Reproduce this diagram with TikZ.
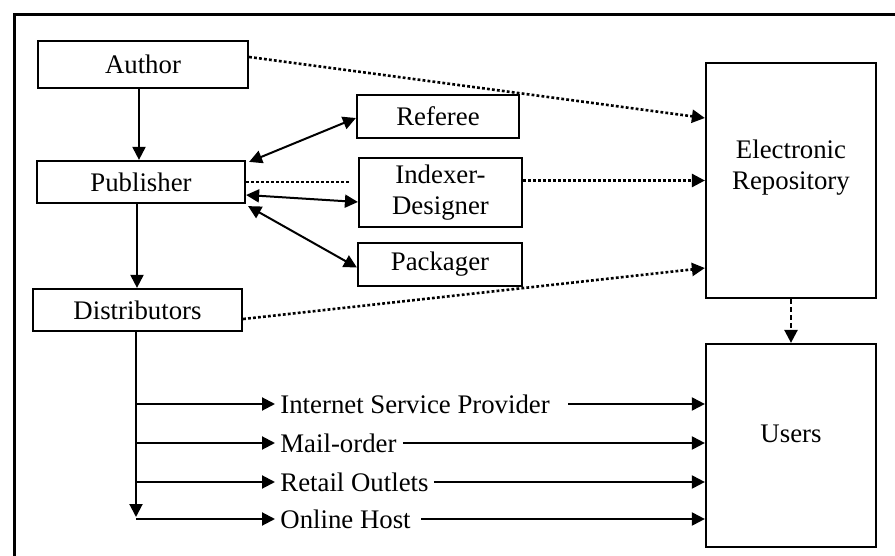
\documentclass[tikz,border=0pt]{standalone}
\usepackage{fontspec}
\setmainfont{Liberation Serif}
\usetikzlibrary{arrows.meta}
\begin{document}
\begin{tikzpicture}[x=0.5pt,y=-0.5pt,
  fnt/.style={font=\fontsize{13.4}{15.5}\selectfont},
  box/.style={draw, line width=1.1pt, inner sep=0pt, align=center, fnt},
  lbl/.style={inner sep=0pt, align=center, fnt},
  txt/.style={inner sep=2.5pt, anchor=west, fnt},
  tip/.tip={Triangle[length=6.5pt,width=6.5pt]},
  arr/.style={line width=1pt, -tip},
  darr/.style={line width=1pt, tip-tip},
  dots/.style={line width=1.3pt, dash pattern=on 1.4pt off 1.1pt},
  dashline/.style={line width=1.2pt, dash pattern=on 2.5pt off 1.5pt, -tip}
]
\useasboundingbox (0,0) rectangle (895,556);
% frame (left and top edges)
\draw[line width=1.5pt] (900,15) -- (14,15) -- (14,560);

% boxes
\node[box, minimum width=105pt, minimum height=23.5pt] (author) at (143,64.5) {Author};
\node[box, minimum width=104pt, minimum height=21pt] (pub) at (141,182) {Publisher};
\node[box, minimum width=104.5pt, minimum height=21pt] (dist) at (137.5,310) {Distributors};
\node[box, minimum width=81pt, minimum height=21.5pt] (ref) at (438,116.5) {Referee};
\node[box, minimum width=81.5pt, minimum height=34.5pt] (idx) at (440.5,192.5) {Indexer-\\Designer};
\node[box, minimum width=82pt, minimum height=21.5pt] (pack) at (440,264.5) {Packager};
\node[box, minimum width=85pt, minimum height=117.5pt] (er) at (791,180.5) {};
\node[lbl] (ertxt) at (791,168) {Electronic\\Repository};
\node[box, minimum width=85pt, minimum height=101.5pt] (users) at (791,445.5) {};
\node[lbl] (userstxt) at (791,434) {Users};

% helper coordinates
\coordinate (x139) at (139,0);
\coordinate (x137) at (137,0);
\coordinate (x136) at (136,0);
\coordinate (yA) at (0,57);
\coordinate (yE1) at (0,118);
\coordinate (yP2) at (0,195);
\coordinate (yI2) at (0,202);
\coordinate (yD) at (0,319);
\coordinate (yE3) at (0,268);
\coordinate (vend) at (136,517);

% vertical flow
\draw[arr] (author.south -| x139) -- (pub.north -| x139);
\draw[arr] (pub.south -| x137) -- (dist.north -| x137);

% double arrows
\draw[darr] ([xshift=1.5pt,yshift=-1pt]pub.north east) -- (ref.west |- yE1);
\draw[darr] (pub.east |- yP2) -- (idx.west |- yI2);
\draw[darr] ([xshift=1pt,yshift=-1pt]pub.south east) -- ([yshift=-1.5pt]pack.west);

% dotted lines
\draw[dots, -tip] (author.east |- yA) -- (er.west |- yE1);
\draw[dots] (pub.east) -- ([xshift=-3.5pt]idx.west |- pub.east);
\draw[dots, -tip] (idx.east |- er.west) -- (er.west);
\draw[dots, -tip] (dist.east |- yD) -- (er.west |- yE3);

% dashed
\draw[dashline] (er.south) -- (users.north);

% distribution channels
\node[txt] (isp) at (275,404) {Internet Service Provider};
\node[txt] (mail) at (275,443) {Mail-order};
\node[txt] (retail) at (275,482) {Retail Outlets};
\node[txt] (online) at (275,519) {Online Host};

\draw[arr] (dist.south -| x136) -- (vend);
\coordinate (b1) at (136,404);
\coordinate (b2) at (136,443);
\coordinate (b3) at (136,482);
\coordinate (b4) at (136,519);
\draw[arr] (b1) -- (isp.west);
\draw[arr] (b2) -- (mail.west);
\draw[arr] (b3) -- (retail.west);
\draw[arr] (b4) -- (online.west);

\draw[arr] ([xshift=6.5pt]isp.east) -- (users.west |- isp.east);
\draw[arr] ([xshift=0.5pt]mail.east) -- (users.west |- mail.east);
\draw[arr] (retail.east) -- (users.west |- retail.east);
\draw[arr] ([xshift=2.5pt]online.east) -- (users.west |- online.east);
\end{tikzpicture}
\end{document}
